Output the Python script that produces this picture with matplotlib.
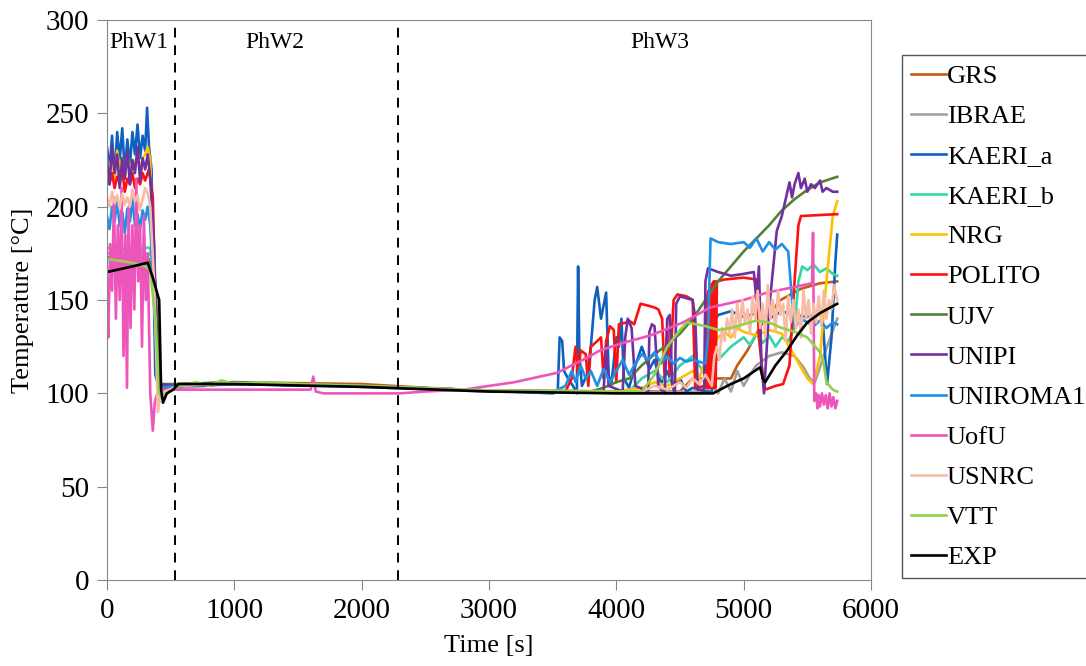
import matplotlib
matplotlib.use("Agg")
import matplotlib.pyplot as plt

plt.rcParams['font.family'] = ['Liberation Serif', 'DejaVu Serif']

# ---- data (time [s], temperature [C]) ----
grs_t = [0, 50, 100, 150, 200, 250, 300, 350, 380, 420, 450, 560, 1000, 2000, 2500, 3000, 4000, 4500, 4600, 4900, 4950, 5030, 5150, 5290, 5450, 5600, 5735]
grs_T = [172, 173, 171, 174, 172, 170, 173, 171, 150, 104, 103, 105, 106, 105, 103, 101.5, 101, 101, 108, 108, 115, 123, 138, 150, 156, 159, 160]

ibrae_t = [0, 60, 120, 180, 240, 300, 360, 420, 560, 1000, 2000, 2500, 3000, 4000, 4700, 4750, 4800, 4850, 4900, 4950, 5000, 5050, 5100, 5200, 5300, 5400, 5470, 5520, 5560, 5620, 5680, 5735]
ibrae_T = [175, 176, 174, 175, 176, 175, 174, 100, 103, 105, 104, 102.5, 101.5, 100.5, 101, 104, 100, 108, 101, 112, 104, 110, 115, 120, 122, 120, 114, 108, 106, 118, 130, 140]

kaeri_a_t = [0, 20, 40, 60, 80, 100, 120, 140, 160, 180, 200, 220, 240, 260, 280, 300, 315, 330, 350, 380, 420, 450, 560, 1000, 2000, 3000, 3500, 3540, 3555, 3575, 3590, 3620, 3660, 3690, 3700, 3710, 3730, 3770, 3800, 3830, 3850, 3880, 3920, 3940, 3960, 4000, 4020, 4040, 4060, 4100, 4150, 4200, 4260, 4300, 4350, 4400, 4450, 4500, 4550, 4600, 4700, 4750, 4780, 4800, 4900, 5000, 5100, 5200, 5300, 5400, 5500, 5600, 5620, 5655, 5690, 5720, 5735]
kaeri_a_T = [232, 220, 238, 215, 240, 225, 242, 218, 236, 222, 240, 228, 244, 226, 238, 230, 253, 232, 220, 110, 100, 102, 104, 105, 104, 101.5, 100, 101, 130, 128, 112, 108, 104, 100, 168, 120, 104, 110, 125, 150, 157, 140, 154, 110, 104, 130, 125, 140, 108, 103, 115, 125, 113, 118, 105, 112, 103, 108, 101, 103, 101, 101, 140, 142, 144, 141, 143, 140, 144, 142, 141, 143, 140, 105, 130, 170, 185]

kaeri_b_t = [0, 100, 200, 300, 340, 380, 420, 560, 1000, 2000, 3000, 4100, 4200, 4300, 4400, 4500, 4600, 4700, 4750, 4800, 4900, 5000, 5050, 5100, 5150, 5200, 5250, 5300, 5350, 5400, 5430, 5460, 5500, 5550, 5600, 5650, 5700, 5735]
kaeri_b_T = [178, 178, 177, 178, 178, 140, 100, 104, 105, 104, 101.5, 101, 108, 112, 106, 115, 120, 110, 122, 118, 125, 130, 126, 132, 127, 131, 125, 130, 128, 135, 160, 168, 166, 169, 165, 167, 164, 163]

nrg_t = [0, 20, 40, 60, 80, 100, 120, 140, 160, 180, 200, 220, 240, 260, 280, 300, 320, 340, 370, 410, 560, 1000, 2000, 3000, 4000, 4200, 4300, 4400, 4500, 4600, 4650, 4700, 4750, 4800, 4850, 4900, 4950, 5000, 5100, 5200, 5300, 5400, 5500, 5546, 5600, 5650, 5700, 5735]
nrg_T = [225, 218, 228, 215, 230, 220, 226, 215, 228, 218, 225, 222, 230, 218, 226, 228, 232, 225, 150, 104, 105, 105.5, 104, 101.5, 101, 103, 106, 104, 108, 112, 108, 118, 125, 130, 133, 130, 135, 133, 131, 134, 132, 120, 108, 105, 120, 160, 195, 203]

polito_t = [0, 20, 40, 60, 80, 100, 120, 140, 160, 180, 200, 220, 240, 260, 280, 300, 330, 360, 390, 420, 560, 1000, 2000, 3000, 3600, 3650, 3680, 3700, 3720, 3760, 3780, 3800, 3850, 3880, 3900, 3920, 3950, 3980, 4000, 4020, 4080, 4100, 4140, 4190, 4250, 4300, 4330, 4360, 4380, 4400, 4420, 4450, 4480, 4550, 4600, 4620, 4700, 4705, 4710, 4715, 4720, 4725, 4730, 4735, 4740, 4745, 4750, 4755, 4760, 4765, 4770, 4775, 4780, 4790, 4850, 5000, 5100, 5120, 5150, 5170, 5250, 5310, 5360, 5400, 5430, 5450, 5735]
polito_T = [215, 212, 218, 210, 216, 213, 220, 208, 215, 212, 218, 210, 215, 212, 218, 214, 220, 205, 120, 100, 104, 105, 104, 101.5, 101, 108, 125, 110, 123, 121, 104, 125, 128, 130, 108, 128, 136, 134, 106, 137, 138, 139, 137, 148, 147, 146, 145, 140, 108, 135, 110, 150, 153, 152, 150, 103, 104, 150, 103, 153, 103, 155, 103, 157, 103, 158, 103, 159, 103, 160, 103, 160, 103, 160, 161, 162, 161, 130, 110, 102, 104, 105, 115, 160, 190, 195, 196]

ujv_t = [0, 100, 200, 300, 340, 380, 420, 560, 1000, 2000, 3000, 3800, 3900, 4000, 4100, 4200, 4300, 4400, 4500, 4600, 4700, 4800, 4900, 5000, 5100, 5200, 5300, 5400, 5500, 5600, 5735]
ujv_T = [173, 172, 173, 172, 170, 160, 105, 105, 106, 104, 101.5, 101, 103, 106, 108, 115, 121, 126, 132, 140, 150, 160, 168, 176, 183, 190, 198, 204, 209, 213, 216]

unipi_t = [0, 20, 40, 60, 80, 100, 120, 140, 160, 180, 200, 220, 240, 260, 280, 300, 320, 340, 370, 400, 560, 1000, 2000, 3000, 3900, 3920, 3940, 4050, 4070, 4090, 4120, 4150, 4250, 4260, 4280, 4300, 4330, 4380, 4400, 4420, 4440, 4460, 4470, 4500, 4600, 4620, 4640, 4690, 4700, 4720, 4800, 4900, 5000, 5080, 5100, 5120, 5140, 5160, 5200, 5260, 5300, 5340, 5360, 5380, 5400, 5430, 5450, 5480, 5500, 5530, 5560, 5600, 5620, 5650, 5700, 5735]
unipi_T = [225, 212, 232, 218, 228, 210, 226, 215, 230, 212, 225, 218, 232, 214, 226, 220, 228, 215, 180, 105, 104, 105, 104, 101.5, 101, 125, 104, 101, 130, 140, 135, 104, 101, 133, 137, 136, 104, 100, 140, 142, 104, 100, 148, 152, 150, 140, 102, 102, 160, 167, 165, 163, 164, 165, 150, 168, 115, 100, 145, 187, 195, 207, 213, 205, 212, 218, 210, 215, 208, 212, 210, 214, 208, 210, 208, 208]

uniroma1_t = [0, 20, 40, 60, 80, 100, 120, 140, 160, 180, 200, 220, 240, 260, 280, 300, 320, 340, 370, 400, 560, 1000, 2000, 3000, 3500, 3600, 3650, 3680, 3720, 3760, 3800, 3850, 3900, 3950, 4000, 4050, 4100, 4150, 4200, 4250, 4300, 4350, 4400, 4450, 4500, 4550, 4600, 4650, 4700, 4720, 4740, 4800, 4900, 5000, 5050, 5100, 5150, 5200, 5250, 5300, 5350, 5380, 5400, 5450, 5500, 5550, 5600, 5650, 5700, 5735]
uniroma1_T = [195, 188, 200, 192, 203, 190, 197, 186, 199, 192, 204, 190, 196, 188, 198, 193, 200, 190, 150, 103, 104, 105, 103.5, 101, 100.5, 104, 112, 106, 115, 108, 112, 104, 113, 106, 112, 118, 110, 116, 121, 118, 122, 116, 120, 116, 119, 117, 118, 117, 116, 130, 183, 181, 180, 181, 178, 183, 176, 181, 177, 180, 176, 150, 135, 140, 138, 136, 139, 135, 138, 137]

uofu_t = [0, 10, 25, 40, 55, 70, 85, 100, 115, 130, 145, 157, 170, 185, 200, 215, 230, 245, 260, 275, 290, 305, 320, 340, 360, 375, 395, 430, 560, 1600, 1620, 1640, 1700, 2300, 2500, 2800, 3000, 3200, 3400, 3535, 3650, 3739, 3873, 4050, 4266, 4525, 4737, 5000, 5185, 5400, 5538, 5545, 5555, 5570, 5580, 5590, 5600, 5615, 5630, 5645, 5660, 5675, 5690, 5705, 5720, 5735]
uofu_T = [150, 130, 180, 155, 205, 140, 190, 150, 210, 120, 185, 103, 200, 135, 190, 145, 215, 160, 190, 125, 195, 150, 175, 100, 80, 95, 100, 102, 102, 102, 109, 101, 100, 100, 101, 102, 104, 106, 109, 111, 115, 118, 123, 127, 131, 138, 146, 150, 154, 157, 159, 186, 96, 100, 92, 99, 93, 100, 94, 99, 92, 100, 93, 98, 92, 96]

usnrc_t = [0, 20, 40, 60, 80, 100, 120, 140, 160, 180, 200, 220, 240, 260, 280, 300, 320, 340, 370, 400, 420, 560, 1000, 2000, 3000, 4200, 4300, 4400, 4500, 4550, 4600, 4650, 4700, 4750, 4770, 4790, 4810, 4830, 4850, 4870, 4890, 4910, 4930, 4950, 4970, 4990, 5010, 5030, 5050, 5070, 5090, 5110, 5130, 5150, 5170, 5190, 5210, 5230, 5250, 5270, 5290, 5310, 5330, 5350, 5370, 5390, 5410, 5430, 5450, 5470, 5490, 5510, 5530, 5550, 5570, 5590, 5610, 5630, 5650, 5670, 5690, 5710, 5735]
usnrc_T = [205, 200, 208, 202, 206, 199, 207, 201, 205, 200, 209, 203, 206, 198, 204, 210, 207, 200, 160, 90, 100, 104, 105.5, 104, 101.5, 101, 104, 102, 106, 103, 108, 105, 110, 104, 120, 125, 118, 135, 128, 140, 132, 145, 130, 148, 135, 150, 138, 145, 132, 152, 140, 155, 135, 148, 130, 158, 140, 150, 133, 155, 142, 148, 128, 152, 138, 150, 135, 145, 130, 155, 140, 150, 132, 148, 138, 152, 136, 155, 140, 150, 145, 158, 150]

vtt_t = [0, 100, 200, 300, 340, 380, 410, 430, 560, 700, 800, 900, 1000, 1200, 1500, 2000, 3000, 4200, 4300, 4400, 4500, 4556, 4700, 4800, 4900, 5000, 5100, 5200, 5300, 5400, 5500, 5600, 5625, 5650, 5700, 5735]
vtt_T = [172, 171, 170, 168, 166, 140, 100, 98, 104, 106, 104, 107, 105, 106, 105, 104, 101.5, 101, 110, 125, 134, 138, 136, 134, 135, 137, 139, 138, 135, 133, 130, 122, 118, 106, 102, 101]

exp_t = [0, 100, 200, 320, 360, 410, 425, 440, 470, 520, 560, 1000, 2000, 3000, 4000, 4700, 4760, 4815, 4900, 5000, 5130, 5150, 5169, 5250, 5342, 5420, 5500, 5600, 5735]
exp_T = [165, 166.5, 168, 170, 162, 150, 102, 95, 100, 102, 105, 105, 103.5, 101, 100, 100, 100, 102, 105, 108, 114, 108, 106, 115, 123, 131, 138, 143, 148]

labels = ['GRS', 'IBRAE', 'KAERI_a', 'KAERI_b', 'NRG', 'POLITO', 'UJV', 'UNIPI', 'UNIROMA1', 'UofU', 'USNRC', 'VTT', 'EXP']
colors = ['#C55A11', '#A0A0A0', '#1060C0', '#33D6A8', '#FFC000', '#FF1010', '#548235', '#7030A0', '#1E90E6', '#EE55BB', '#F8BCA4', '#92D050', '#000000']
series = [(grs_t, grs_T), (ibrae_t, ibrae_T), (kaeri_a_t, kaeri_a_T), (kaeri_b_t, kaeri_b_T),
          (nrg_t, nrg_T), (polito_t, polito_T), (ujv_t, ujv_T), (unipi_t, unipi_T),
          (uniroma1_t, uniroma1_T), (uofu_t, uofu_T), (usnrc_t, usnrc_T), (vtt_t, vtt_T), (exp_t, exp_T)]

phase_bounds = [534, 2286]
phase_names = ['PhW1', 'PhW2', 'PhW3']
phase_pos = [250, 1320, 4344]

fig = plt.figure(figsize=(10.86, 6.66), dpi=100)
ax = fig.add_axes([0.0985, 0.129, 0.7035, 0.841])

for (t, T), lab, c in zip(series, labels, colors):
    ax.plot(t, T, color=c, lw=1.9, label=lab)

for b in phase_bounds:
    ax.axvline(b, color='black', ls='--', lw=1.4, dashes=(5, 4))
for name, p in zip(phase_names, phase_pos):
    ax.text(p, 288, name, ha='center', va='center', fontsize=17)

ax.set_xlim(0, 6000)
ax.set_ylim(0, 300)
ax.set_xticks(range(0, 6001, 1000))
ax.set_yticks(range(0, 301, 50))
ax.tick_params(labelsize=21, color='#888888', length=7, pad=6)
for s in ax.spines.values():
    s.set_color('#888888')
ax.set_xlabel('Time [s]', fontsize=19, labelpad=8)
ax.set_ylabel('Temperature [°C]', fontsize=19, labelpad=8)

fig.legend(loc='upper left', bbox_to_anchor=(0.8306, 0.917), fontsize=19,
           frameon=True, fancybox=False, edgecolor='#555555', framealpha=1,
           handlelength=1.3, handletextpad=0.05, labelspacing=0.63,
           borderpad=0.35, borderaxespad=0)

fig.savefig('out.png', dpi=100)
